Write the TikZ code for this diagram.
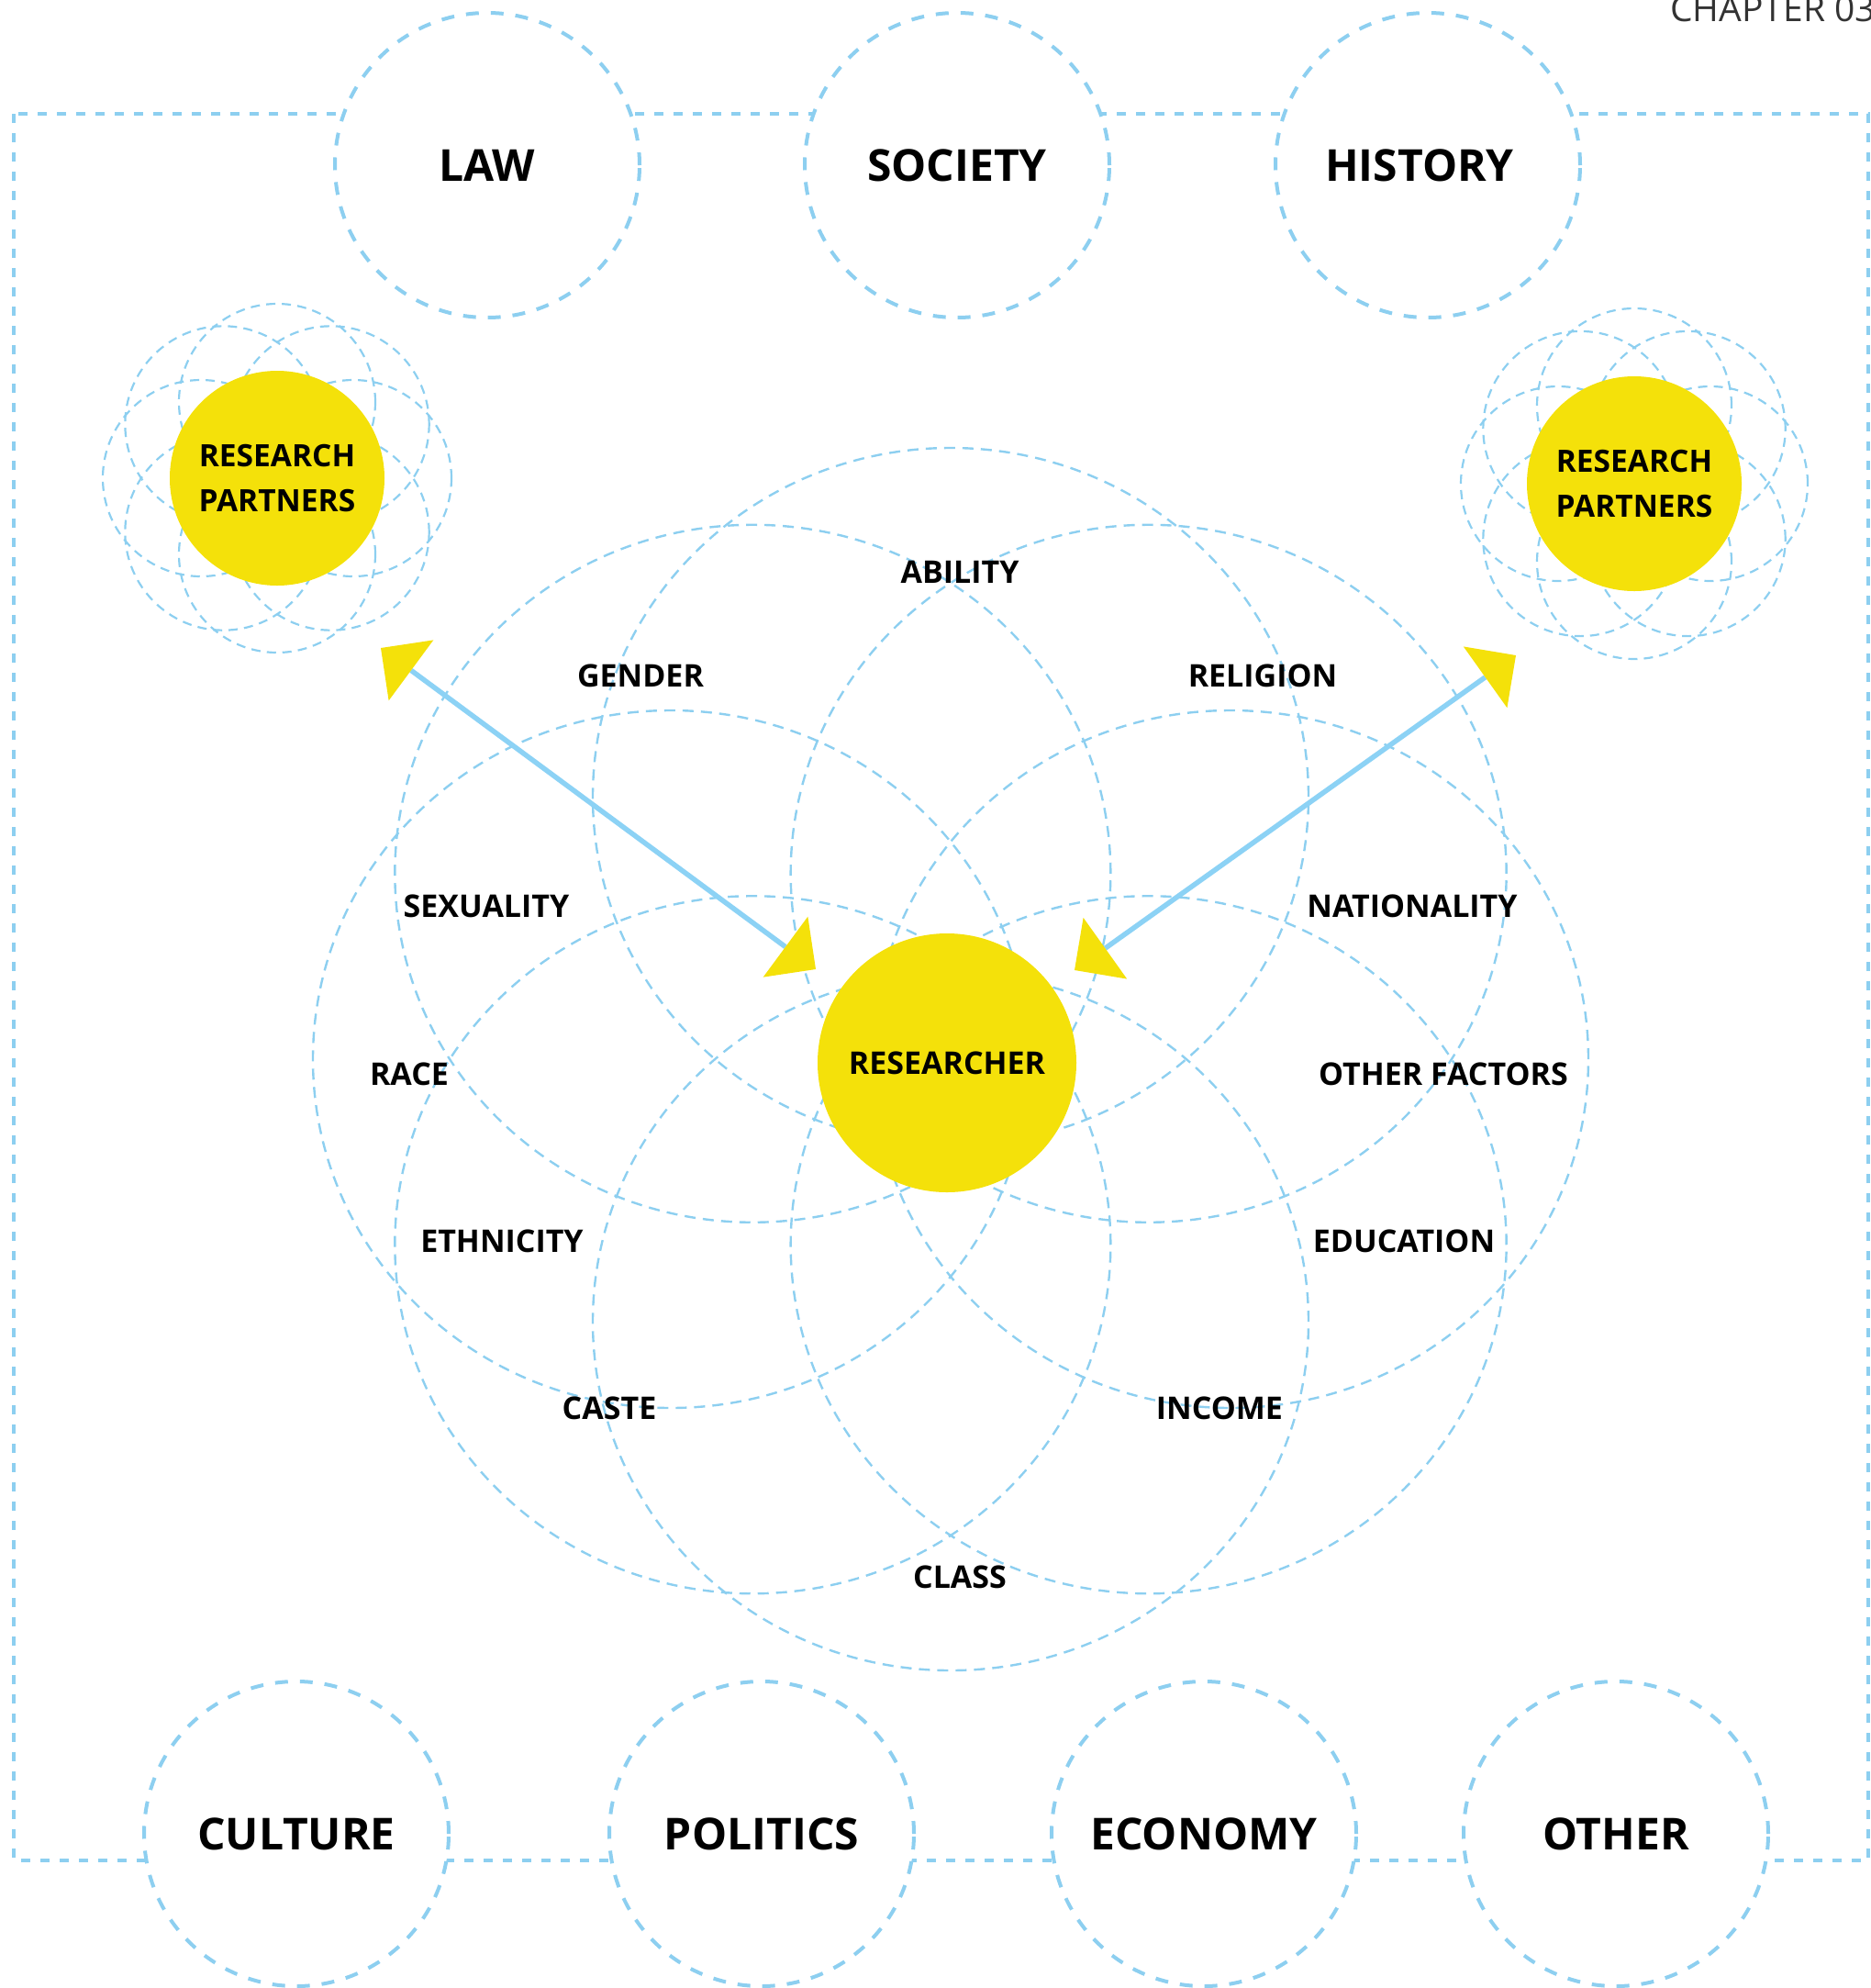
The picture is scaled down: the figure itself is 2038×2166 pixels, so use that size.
\documentclass[tikz,border=0pt]{standalone}
\usepackage{fontspec}
\setmainfont{Open Sans}
\usetikzlibrary{calc}
\definecolor{ylw}{RGB}{244,225,10}
\definecolor{dblue}{RGB}{141,207,240}
\definecolor{ablue}{RGB}{140,210,245}
\begin{document}
\begin{tikzpicture}[x=1pt,y=-1pt,
  frame/.style={draw=dblue,line width=3.2pt,dash pattern=on 10pt off 11pt},
  ctx/.style={circle,draw=dblue,fill=white,line width=4pt,dash pattern=on 14pt off 13pt,
    minimum size=332pt,inner sep=0pt},
  ctxlabel/.style={inner sep=0pt,font=\fontsize{48}{50}\selectfont\bfseries},
  petal/.style={draw=dblue,line width=2.4pt,dash pattern=on 12pt off 8pt},
  ringc/.style={draw=dblue,line width=2.2pt,dash pattern=on 10pt off 7pt},
  factor/.style={font=\fontsize{34}{40}\selectfont\bfseries,inner sep=0pt},
  hub/.style={circle,fill=ylw,inner sep=0pt,align=center,font=\fontsize{33.5}{49}\selectfont\bfseries},
  link/.style={draw=ablue,line width=5.5pt},
  head/.style={fill=ylw}
]
\useasboundingbox (0,0) rectangle (2038,2166);

% outer frame
\draw[frame] (15,124) rectangle (2036,2027);

% context circles
\node[ctx] (law) at (531,180) {};
\node[ctx] (society) at (1043,180) {};
\node[ctx] (history) at (1556,180) {};
\node[ctx] (culture) at (323,1998) {};
\node[ctx] (politics) at (830,1998) {};
\node[ctx] (economy) at (1312,1998) {};
\node[ctx] (other) at (1761,1998) {};
\node[ctxlabel] (lawt) at (law) {LAW};
\node[ctxlabel] (societyt) at (society) {SOCIETY};
\node[ctxlabel] (historyt) at ($(history)+(-9,0)$) {HISTORY};
\node[ctxlabel] (culturet) at (culture) {CULTURE};
\node[ctxlabel] (politicst) at (politics) {POLITICS};
\node[ctxlabel] (economyt) at (economy) {ECONOMY};
\node[ctxlabel] (othert) at (other) {OTHER};

% chapter mark
\node[anchor=base west,inner sep=0pt,text=black!80,font=\fontsize{39}{40}\selectfont] (chap) at (1820,23) {CHAPTER 03};

% flower of factors
\coordinate (fc) at (1036,1154);
\foreach \a in {0,45,...,315}
  \draw[petal] ($(fc)+({305*cos(\a)},{286*sin(\a)})$) ellipse [x radius=390pt, y radius=380pt];

% partner clusters
\coordinate (plc) at (302,521);
\coordinate (prc) at (1781,527);
\foreach \a in {0,45,...,315}{
  \draw[ringc] ($(plc)+({83*cos(\a)},{83*sin(\a)})$) circle [radius=107pt];
  \draw[ringc] ($(prc)+({83*cos(\a)},{85*sin(\a)})$) circle [radius=106pt];
}

% hubs
\node[hub,minimum size=282pt,font=\fontsize{34}{49}\selectfont\bfseries] (res) at (1032,1158) {RESEARCHER};
\node[hub,minimum size=234pt] (pl) at (plc) {RESEARCH\\PARTNERS};
\node[hub,minimum size=234pt] (pr) at (prc) {RESEARCH\\PARTNERS};

% factor labels
\node[factor] (ability) at (1046,623) {ABILITY};
\node[factor] (gender) at (698,736) {GENDER};
\node[factor] (religion) at (1376,736) {RELIGION};
\node[factor] (sexuality) at (530,987) {SEXUALITY};
\node[factor] (nationality) at (1539,987) {NATIONALITY};
\node[factor] (race) at (446,1170) {RACE};
\node[factor] (otherf) at (1573,1170) {OTHER FACTORS};
\node[factor] (ethnicity) at (547,1352) {ETHNICITY};
\node[factor] (education) at (1530,1352) {EDUCATION};
\node[factor] (caste) at (664,1534) {CASTE};
\node[factor] (income) at (1329,1534) {INCOME};
\node[factor] (class) at (1046,1718) {CLASS};

% arrows researcher <-> partners
\coordinate (t1) at (415,706);
\coordinate (t2) at (889,1056);
\coordinate (t3) at (1652,714);
\coordinate (t4) at (1171,1057);
\coordinate (b1) at ($(t1)!41pt!(t2)$);
\coordinate (b2) at ($(t2)!41pt!(t1)$);
\coordinate (b3) at ($(t3)!41pt!(t4)$);
\coordinate (b4) at ($(t4)!41pt!(t3)$);
\draw[link] (b1) -- (b2);
\draw[link] (b3) -- (b4);
\fill[head] (t1) -- ($(b1)!41pt!90:(t1)$) -- ($(b1)!41pt!-90:(t1)$) -- cycle;
\fill[head] (t2) -- ($(b2)!41pt!90:(t2)$) -- ($(b2)!41pt!-90:(t2)$) -- cycle;
\fill[head] (t3) -- ($(b3)!41pt!90:(t3)$) -- ($(b3)!41pt!-90:(t3)$) -- cycle;
\fill[head] (t4) -- ($(b4)!41pt!90:(t4)$) -- ($(b4)!41pt!-90:(t4)$) -- cycle;
\end{tikzpicture}
\end{document}
